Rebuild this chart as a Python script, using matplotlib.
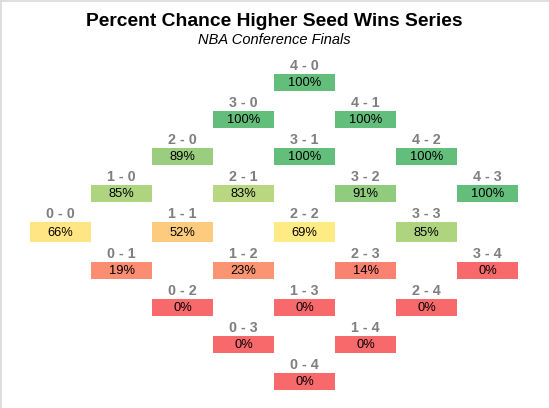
import matplotlib
matplotlib.use("Agg")
import matplotlib.pyplot as plt
from matplotlib.patches import Rectangle
from matplotlib.colors import LinearSegmentedColormap, TwoSlopeNorm
import numpy as np

plt.rcParams['font.family'] = ['Liberation Sans', 'DejaVu Sans']

# ---- data: series state (higher seed wins - losses) and chance higher seed wins series ----
wins   = [4, 3, 4, 2, 3, 4, 1, 2, 3, 4, 0, 1, 2, 3, 0, 1, 2, 3, 0, 1, 2, 0, 1, 0]
losses = [0, 0, 1, 0, 1, 2, 0, 1, 2, 3, 0, 1, 2, 3, 1, 2, 3, 4, 2, 3, 4, 3, 4, 4]
probs  = [100, 100, 100, 89, 100, 100, 85, 83, 91, 100, 66, 52, 69, 85,
          19, 23, 14, 0, 0, 0, 0, 0, 0, 0]

title = "Percent Chance Higher Seed Wins Series"
subtitle = "NBA Conference Finals"

# ---- style / layout ----
W, H = 549, 408
fig = plt.figure(figsize=(W / 100, H / 100), dpi=100)
ax = fig.add_axes([0, 0, 1, 1])
ax.set_xlim(0, W)
ax.set_ylim(H, 0)
ax.axis('off')

cmap = LinearSegmentedColormap.from_list(
    'excel3', ['#F8696B', '#FFEB84', '#63BE7B'])
norm = TwoSlopeNorm(vmin=0, vcenter=69, vmax=100)

COL_W = 61.0
X0 = 30.0
ROW_H = 37.0
Y0 = 74.0
BOX_H = 17.0
MID_EXTRA = 3.0


def layout(w, l):
    col = w + l
    row = 4 - w + l
    left = X0 + COL_W * col
    top = Y0 + ROW_H * row + (MID_EXTRA if row > 4 else 0.0)
    h = BOX_H + (MID_EXTRA if row == 4 else 0.0)
    return left, top, h


for w, l, p in zip(wins, losses, probs):
    left, top, h = layout(w, l)
    ax.add_patch(Rectangle((left, top), COL_W, h, facecolor=cmap(norm(p)),
                           edgecolor='none'))
    cx = left + COL_W / 2
    ax.text(cx, top + h / 2 + 0.5, f"{p}%", ha='center', va='center',
            fontsize=9.3, color='black')
    ax.text(cx, top - 4, f"{w} - {l}", ha='center', va='baseline',
            fontsize=10.3, fontweight='bold', color='#7F7F7F')

ax.text(W / 2, 25.7, title, ha='center', va='baseline', fontsize=13.9,
        fontweight='bold', color='black')
ax.text(W / 2, 44.3, subtitle, ha='center', va='baseline', fontsize=10.5,
        style='italic', color='black')

# chart-area border (left and top visible)
ax.plot([0.5, 0.5], [H, 0.5], color='#D9D9D9', lw=1.2)
ax.plot([0.5, W], [0.5, 0.5], color='#D9D9D9', lw=1.2)

fig.savefig('out.png', dpi=100)
